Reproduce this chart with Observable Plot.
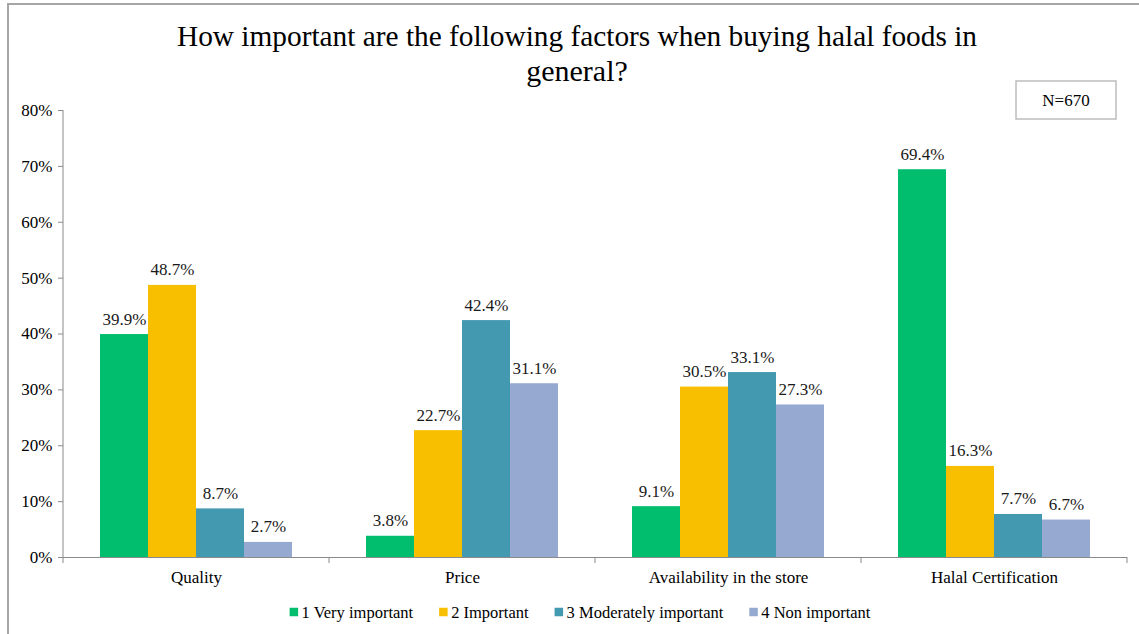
<!DOCTYPE html>
<html>
<head>
<meta charset="utf-8">
<script src="https://cdn.jsdelivr.net/npm/d3@7"></script>
<script src="https://cdn.jsdelivr.net/npm/@observablehq/plot@0.6"></script>
<style>
  html, body { margin: 0; padding: 0; background: #fff; overflow: hidden; }
  #wrap { position: relative; width: 1139px; height: 634px; overflow: hidden; }
  #frame { position: absolute; left: 7px; top: 3px; width: 1200px; height: 700px;
           border: 2px solid #a6a6a6; }
  #chart { position: absolute; left: 0; top: 0; }
</style>
</head>
<body>
<div id="wrap">
  <div id="frame"></div>
  <div id="chart"></div>
</div>
<script>
const titleLines = ["How important are the following factors when buying halal foods in", "general?"];
const sampleNote = "N=670";
const categories = ["Quality", "Price", "Availability in the store", "Halal Certification"];
const series = ["1 Very important", "2 Important", "3 Moderately important", "4 Non important"];
const veryImportant = [39.9, 3.8, 9.1, 69.4];
const important = [48.7, 22.7, 30.5, 16.3];
const moderatelyImportant = [8.7, 42.4, 33.1, 7.7];
const nonImportant = [2.7, 31.1, 27.3, 6.7];
const yTicks = [0, 10, 20, 30, 40, 50, 60, 70, 80];
const yTickLabels = ["0%", "10%", "20%", "30%", "40%", "50%", "60%", "70%", "80%"];
const colors = ["#00BE6E", "#F8BF00", "#4399B0", "#95A9D1"];

const seriesValues = [veryImportant, important, moderatelyImportant, nonImportant];
const data = categories.flatMap((c, i) =>
  series.map((s, j) => ({ category: c, series: s, value: seriesValues[j][i] / 100 }))
);

const axisColor = "#8a8a8a";
const serif = "'Liberation Serif', Tinos, 'Times New Roman', Times, serif";

const chart = Plot.plot({
  width: 1139,
  height: 634,
  marginTop: 110,
  marginBottom: 77,
  marginLeft: 61,
  marginRight: 11,
  style: { fontFamily: serif, fontSize: "16px", color: "#000", background: "transparent" },
  fx: { domain: categories, paddingInner: 0, paddingOuter: 0, label: null },
  x: { domain: series, paddingInner: 0, paddingOuter: 0.75, axis: null },
  y: { domain: [0, 0.8], axis: null },
  color: { domain: series, range: colors },
  marks: [
    Plot.axisY({
      ticks: yTicks.map(v => v / 100),
      tickFormat: (d, i) => yTickLabels[i],
      tickSize: 5, tickPadding: 6,
      stroke: axisColor, fill: "#000", fontSize: 17, label: null
    }),
    Plot.axisFx({
      anchor: "bottom",
      tickSize: 0, tickPadding: 13, fontSize: 17, fill: "#000", label: null
    }),
    Plot.barY(data, { fx: "category", x: "series", y: "value", fill: "series" }),
    Plot.text(data, {
      fx: "category", x: "series", y: "value",
      text: d => (d.value * 100).toFixed(1) + "%",
      lineAnchor: "bottom", dy: -10, fontSize: 17, fill: "#1a1a1a"
    }),
    Plot.ruleY([0], { stroke: axisColor, strokeWidth: 1 })
  ]
});

document.getElementById("chart").appendChild(chart);

// axis line and category separators from the library's scales
const fx = chart.scale("fx");
const ys = chart.scale("y");
const svg = d3.select(chart);
const y0 = ys.apply(0), yTop = ys.apply(0.8);
const xLeft = fx.apply(categories[0]);
svg.append("line")
  .attr("x1", xLeft).attr("x2", xLeft).attr("y1", yTop).attr("y2", y0)
  .attr("stroke", axisColor);
const bounds = categories.map(c => fx.apply(c)).concat([fx.apply(categories[categories.length - 1]) + fx.bandwidth]);
svg.append("g").selectAll("line").data(bounds).join("line")
  .attr("x1", d => d).attr("x2", d => d).attr("y1", y0).attr("y2", y0 + 6)
  .attr("stroke", axisColor);

// title
const tg = svg.append("g").attr("font-family", serif).attr("fill", "#000").attr("text-anchor", "middle");
titleLines.forEach((t, i) => {
  const el = tg.append("text").attr("x", 577).attr("y", 46 + i * 35).attr("font-size", 30).text(t);
  if (i === 0) el.attr("textLength", 800).attr("lengthAdjust", "spacingAndGlyphs");
});

// N box
const ng = svg.append("g");
ng.append("rect").attr("x", 1016).attr("y", 81).attr("width", 100).attr("height", 38)
  .attr("fill", "#fff").attr("stroke", "#bdbdbd").attr("stroke-width", 1.5);
ng.append("text").attr("x", 1066).attr("y", 106).attr("text-anchor", "middle")
  .attr("font-family", serif).attr("font-size", 17).attr("fill", "#000").text(sampleNote);

// legend
const lg = svg.append("g").attr("font-family", serif).attr("font-size", 16.5)
  .attr("fill", "#000").attr("text-anchor", "start");
const items = series.map((s, i) => {
  const g = lg.append("g");
  g.append("rect").attr("width", 8.5).attr("height", 8.5).attr("y", -4.25).attr("fill", colors[i]);
  const t = g.append("text").attr("x", 12).attr("y", 6).attr("text-anchor", "start").text(s);
  return { g, w: 12 + t.node().getComputedTextLength() };
});
const gap = 26;
const total = d3.sum(items, d => d.w) + gap * (items.length - 1);
let cx = 580 - total / 2;
items.forEach(d => { d.g.attr("transform", `translate(${cx},612)`); cx += d.w + gap; });
</script>
</body>
</html>
